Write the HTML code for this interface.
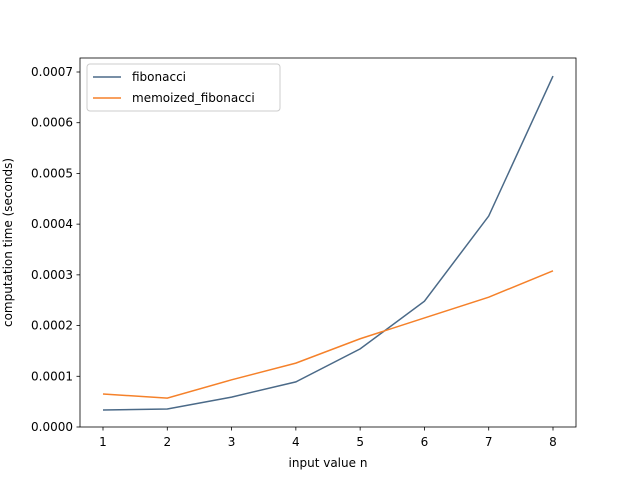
<!DOCTYPE html>
<html><head><meta charset="utf-8"><style>
body{margin:0;background:#fff;}
svg{display:block;font-family:"DejaVu Sans","Liberation Sans",sans-serif;}
</style></head><body>
<svg id="chart" width="640" height="480"></svg>
<script>
const categories=[1,2,3,4,5,6,7,8];
const fibValues=[0.0000335,0.0000355,0.000059,0.000089,0.000154,0.000248,0.000416,0.000692];
const memoValues=[0.000065,0.000057,0.000093,0.000126,0.000174,0.000215,0.000256,0.000308];
const yTicks=[0,0.0001,0.0002,0.0003,0.0004,0.0005,0.0006,0.0007];
const yTickLabels=["0.0000","0.0001","0.0002","0.0003","0.0004","0.0005","0.0006","0.0007"];
const NS="http://www.w3.org/2000/svg";
const svg=document.getElementById('chart');
const L=80,R=576,T=58,B=427;
const xs=v=>103+(v-1)*(553-103)/7;
const ys=v=>B-v*(B-72)/0.0007;
function mk(tag,attrs,parent){const e=document.createElementNS(NS,tag);for(const k in attrs)e.setAttribute(k,attrs[k]);(parent||svg).appendChild(e);return e;}
function txt(s,attrs){const e=mk('text',attrs);e.textContent=s;return e;}
const box=mk('rect',{x:L,y:T,width:R-L,height:B-T,fill:'none',stroke:'#000','stroke-width':0.8});


categories.forEach(c=>{
  const x=xs(c);
  const t=mk('line',{x1:x,x2:x,y1:B,y2:B+3.5,stroke:'#000','stroke-width':0.8});
  
  
  const l=txt(String(c),{x:x,y:B+19,'font-size':12,'text-anchor':'middle'});
  
  
});
yTicks.forEach((v,i)=>{
  const y=ys(v);
  const t=mk('line',{x1:L-3.5,x2:L,y1:y,y2:y,stroke:'#000','stroke-width':0.8});
  
  
  const l=txt(yTickLabels[i],{x:L-7,y:y+4,'font-size':12,'text-anchor':'end'});
  
  
});
const xt=txt('input value n',{x:(L+R)/2,y:467,'font-size':12,'text-anchor':'middle'});


const yt=txt('computation time (seconds)',{x:0,y:0,'font-size':12,'text-anchor':'middle',transform:`translate(12,${(T+B)/2}) rotate(-90)`});


function series(vals,color,name){
  const p=mk('polyline',{points:categories.map((c,i)=>xs(c)+','+ys(vals[i])).join(' '),fill:'none',stroke:color,'stroke-width':1.5});
  
  
}
series(fibValues,'#4b6a88','fibonacci-line');
series(memoValues,'#f5812a','memoized-fibonacci-line');
const lg=mk('rect',{x:87,y:64,width:193,height:47,rx:3,fill:'#fff',stroke:'#ccc','stroke-width':1});


[['fibonacci','#4b6a88',81],['memoized_fibonacci','#f5812a',102]].forEach(([n,c,y])=>{
  const ln=mk('line',{x1:93,x2:121,y1:y-4,y2:y-4,stroke:c,'stroke-width':1.5});
  
  
  const t=txt(n,{x:132,y:y,'font-size':12});
  
  
});
</script>
</body></html>
